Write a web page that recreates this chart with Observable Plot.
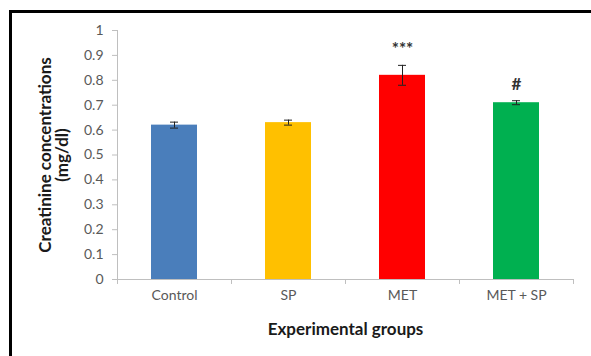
<!DOCTYPE html>
<html>
<head>
<meta charset="utf-8">
<script src="https://cdn.jsdelivr.net/npm/d3@7"></script>
<script src="https://cdn.jsdelivr.net/npm/@observablehq/plot@0.6"></script>
<style>
  html, body { margin: 0; padding: 0; background: #fff; }
  #wrap { position: relative; width: 591px; height: 356px; overflow: hidden; }
  #border { position: absolute; left: 9px; top: 10px; width: 700px; height: 500px;
            border-left: 3px solid #000; border-top: 3px solid #000; box-sizing: border-box; }
  #chart { position: absolute; left: 0; top: 0; }
</style>
</head>
<body>
<div id="wrap"><div id="border"></div><div id="chart"></div></div>
<script>
const categories = ["Control", "SP", "MET", "MET + SP"];
const values = [0.62, 0.63, 0.82, 0.71];
const errors = [0.012, 0.01, 0.04, 0.008];
const sigLabels = ["", "", "***", "#"];
const colors = ["#4a7ebb", "#ffc000", "#ff0000", "#00b050"];
const yTicks = [0, 0.1, 0.2, 0.3, 0.4, 0.5, 0.6, 0.7, 0.8, 0.9, 1];
const yLabel = "Creatinine concentrations\n(mg/dl)";
const xLabel = "Experimental groups";

const data = categories.map((c, i) => ({cat: c, v: values[i], e: errors[i], sig: sigLabels[i], color: colors[i]}));
const axisColor = "#bfbfbf";
const font = "Lato, 'Open Sans', sans-serif";

const chart = Plot.plot({
  width: 591,
  height: 356,
  marginLeft: 117,
  marginRight: 18,
  marginTop: 30,
  marginBottom: 77,
  style: {fontFamily: font, fontSize: "14px", color: "#595959", background: "transparent"},
  x: {domain: categories, paddingInner: 0.6, paddingOuter: 0.3, label: null},
  y: {domain: [0, 1], label: null},
  marks: [
    Plot.frame({anchor: "left", stroke: axisColor}),
    Plot.frame({anchor: "bottom", stroke: axisColor}),
    Plot.axisY({ticks: yTicks, tickSize: 5, tickPadding: 9, tickFormat: d => String(d), stroke: axisColor, fill: "#595959", fontSize: 14, label: null}),
    Plot.axisX({tickSize: 0, tickPadding: 11, fill: "#595959", fontSize: 14, label: null}),
    Plot.ruleX(categories, {x: d => d, y1: 0, y2: -0.02, dx: -57, stroke: axisColor}),
    Plot.ruleX(categories.slice(-1), {x: d => d, y1: 0, y2: -0.02, dx: 57, stroke: axisColor}),
    Plot.barY(data, {x: "cat", y: "v", fill: "color"}),
    Plot.ruleX(data, {x: "cat", y1: d => d.v - d.e, y2: d => d.v + d.e, stroke: "#222", strokeWidth: 1}),
    Plot.tickY(data, {x: "cat", y: d => d.v + d.e, stroke: "#222", insetLeft: 19, insetRight: 19}),
    Plot.tickY(data, {x: "cat", y: d => d.v - d.e, stroke: "#222", insetLeft: 19, insetRight: 19}),
    Plot.text(data, {x: "cat", y: d => d.v + d.e, text: "sig", dy: -16, fill: "#333", fontSize: 17, fontWeight: "bold"}),
    Plot.text([xLabel], {frameAnchor: "bottom", text: d => d, dy: 50, lineAnchor: "middle", fontWeight: "bold", fontSize: 17, fill: "#1a1a1a"}),
    Plot.text([yLabel], {frameAnchor: "left", textAnchor: "middle", lineAnchor: "middle", text: d => d, rotate: -90, dx: -63, fontWeight: "bold", fontSize: 17, fill: "#1a1a1a", lineHeight: 1.0})
  ]
});
document.getElementById("chart").appendChild(chart);
</script>
</body>
</html>
